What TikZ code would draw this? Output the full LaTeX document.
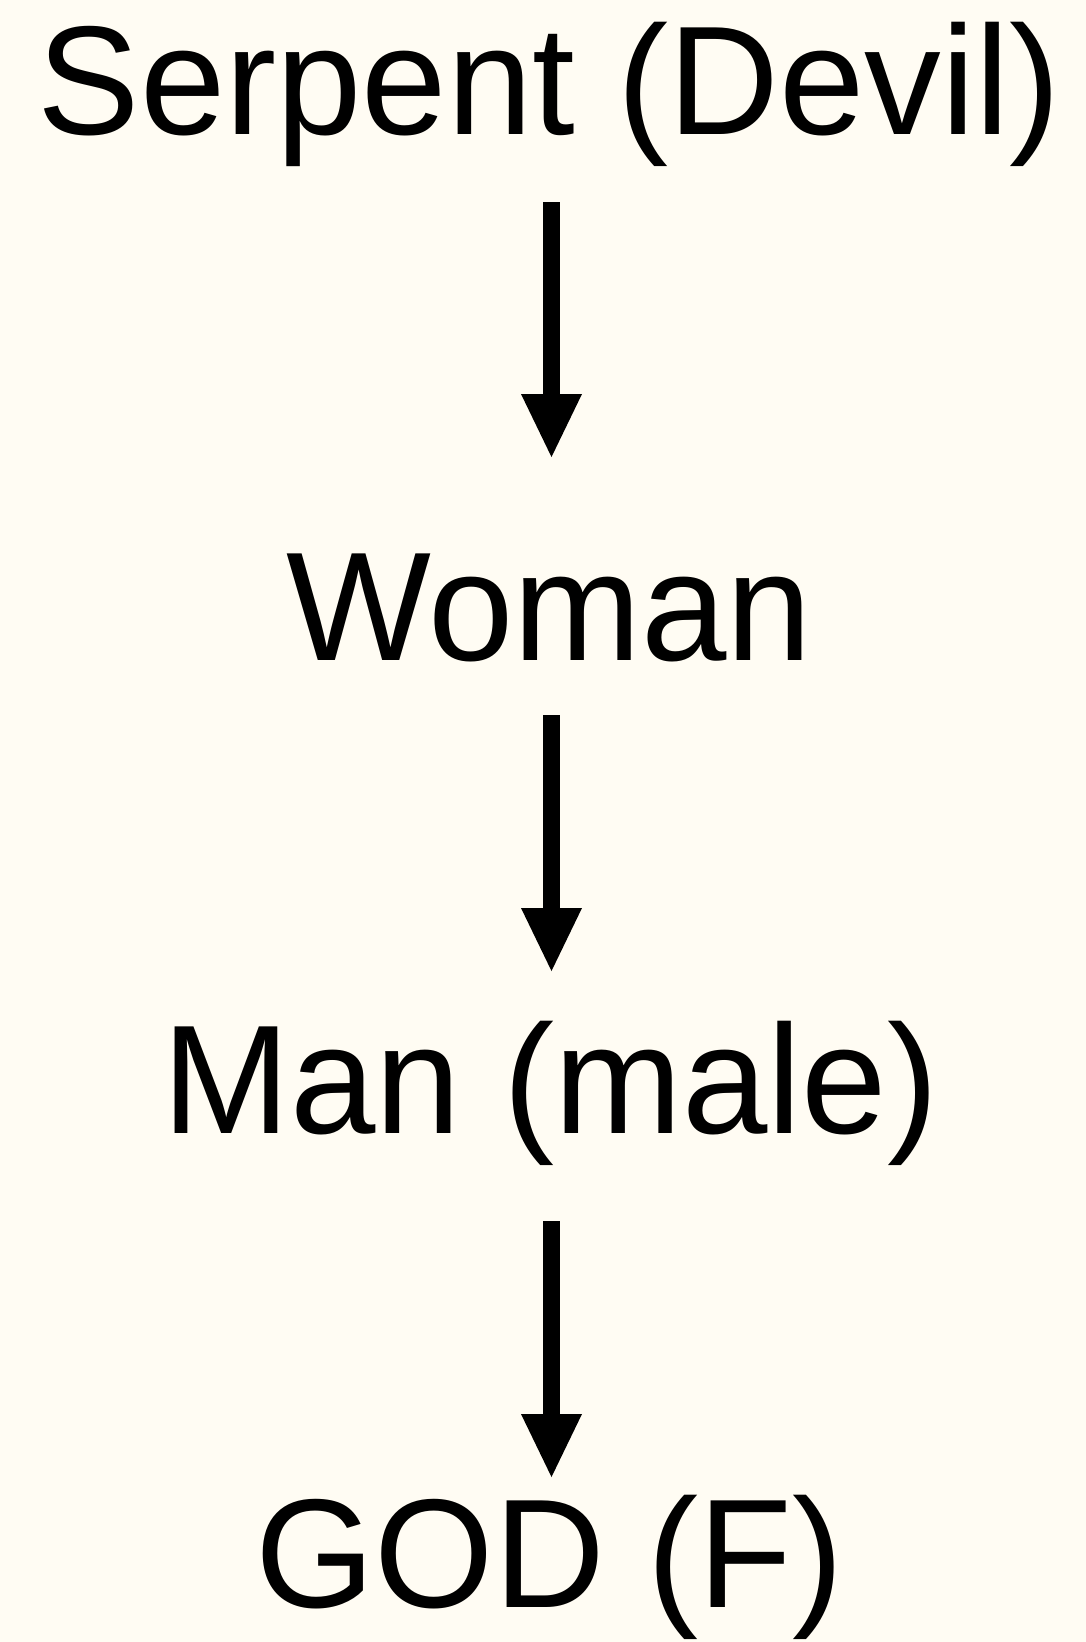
\documentclass[tikz,border=0pt]{standalone}
\usepackage{fontspec}
\setmainfont{Liberation Sans}
\newfontfamily\lblfont{Liberation Sans}[FakeStretch=0.99]
\usetikzlibrary{arrows.meta}
\definecolor{bg}{HTML}{FFFCF3}
\begin{document}
\begin{tikzpicture}[x=1pt,y=-1pt,
  lbl/.style={font=\lblfont\fontsize{155}{186}\selectfont, inner sep=0pt, anchor=base, text=black},
  arr/.style={line width=17pt, draw=black, -{Triangle[length=63pt,width=61pt,line width=0pt]}}]
\fill[bg] (0,0) rectangle (1086,1642);
\useasboundingbox (0,0) rectangle (1086,1642);
\node[lbl] (serp) at (549.5,134) {Serpent (Devil)};
\node[lbl] (wom) at (549,660) {Woman};
\node[lbl] (man) at (550.5,1133) {Man (male)};
\node[lbl] (god) at (549.5,1607) {GOD (F)};
\draw[arr] ([xshift=2pt,yshift=-68pt]serp.base) -- ([xshift=2.5pt,yshift=203pt]wom.base);
\draw[arr] ([xshift=2.5pt,yshift=-55pt]wom.base) -- ([xshift=1pt,yshift=162pt]man.base);
\draw[arr] ([xshift=1pt,yshift=-88pt]man.base) -- ([xshift=2pt,yshift=130pt]god.base);
\end{tikzpicture}
\end{document}
